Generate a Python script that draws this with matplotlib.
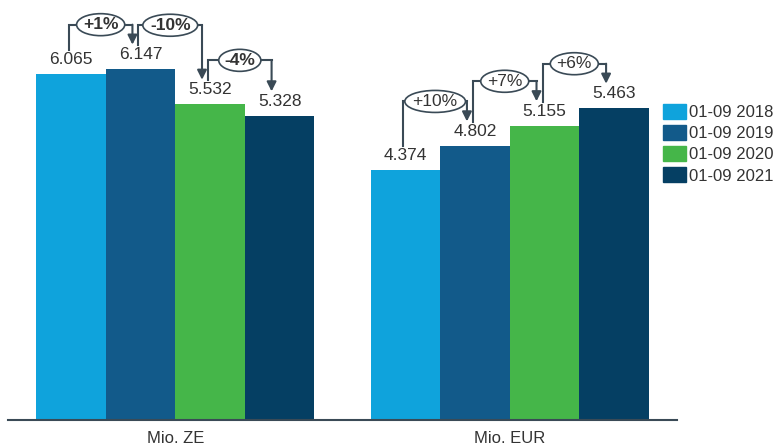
import matplotlib.pyplot as plt
from matplotlib.patches import Patch, Ellipse

plt.rcParams['font.family'] = ['Liberation Sans', 'DejaVu Sans']

categories = ["Mio. ZE", "Mio. EUR"]
series = ["01-09 2018", "01-09 2019", "01-09 2020", "01-09 2021"]
v2018 = [6.065, 4.374]
v2019 = [6.147, 4.802]
v2020 = [5.532, 5.155]
v2021 = [5.328, 5.463]
changes_ze = ["+1%", "-10%", "-4%"]
changes_eur = ["+10%", "+7%", "+6%"]

colors = ["#0fa3dc", "#125a8a", "#45b649", "#053f63"]
text_col = "#333333"
line_col = "#3a4a56"

values = [v2018, v2019, v2020, v2021]
w = 0.208

fig = plt.figure(figsize=(7.77, 4.45), dpi=100)
ax = fig.add_axes([8 / 777, 1 - 420 / 445, 669 / 777, 420 / 445])
ax.set_xlim(-0.5, 1.5)
ax.set_ylim(0, 420 / 57.07)

# pixels per data unit (for sizing the ellipses)
px_x = ax.bbox.width / 2.0
px_y = ax.bbox.height / (420 / 57.07)
renderer = fig.canvas.get_renderer()

tops = {}
for i, (name, vals) in enumerate(zip(series, values)):
    xs = [g + (i - 1.5) * w for g in range(len(categories))]
    bars = ax.bar(xs, vals, width=w, color=colors[i], label=name)
    ax.bar_label(bars, labels=[f"{v:.3f}" for v in vals], padding=5,
                 fontsize=12.5, color=text_col)
    for g, (x, v) in enumerate(zip(xs, vals)):
        tops[(g, i)] = (x, v)

# change brackets between neighbouring bars
for g, labels in enumerate([changes_ze, changes_eur]):
    for i, lab in enumerate(labels):
        x0, v0 = tops[(g, i)]
        x1, v1 = tops[(g, i + 1)]
        xs0 = x0 - 0.006
        xs1 = x1 - 0.024
        y0 = v0 + 0.42
        y1 = v1 + 0.43
        yb = max(y0, y1) + 0.35
        xc = (xs0 + xs1) / 2
        ax.plot([xs0, xs0, xs1], [y0, yb, yb], color=line_col, lw=1.5,
                solid_joinstyle="miter", zorder=3)
        ax.annotate("", xy=(xs1, y1), xytext=(xs1, yb),
                    arrowprops=dict(arrowstyle="-|>", color=line_col, lw=1.5,
                                    mutation_scale=14, shrinkA=0, shrinkB=0),
                    zorder=3)
        t = ax.text(xc, yb, lab, ha="center", va="center",
                    fontsize=12.5, color=text_col,
                    fontweight="bold" if g == 0 else "normal", zorder=5)
        tw = t.get_window_extent(renderer=renderer).width
        ax.add_patch(Ellipse((xc, yb), (tw * 1.3 + 2) / px_x, 22 / px_y,
                             fc="white", ec=line_col, lw=1.2, zorder=4))

ax.set_xticks(range(len(categories)))
ax.set_xticklabels(categories, fontsize=12, color=text_col)
ax.tick_params(axis="x", length=0, pad=8)
ax.set_yticks([])
for s in ["top", "right", "left"]:
    ax.spines[s].set_visible(False)
ax.spines["bottom"].set_color(line_col)
ax.spines["bottom"].set_linewidth(1.5)

handles = [Patch(color=c) for c in colors]
fig.legend(handles, series, loc="upper left",
           bbox_to_anchor=(663 / 777, 1 - 104 / 445), frameon=False,
           fontsize=12, handlelength=1.4, handleheight=1.0,
           handletextpad=0.15, labelspacing=0.3, borderpad=0,
           borderaxespad=0, labelcolor=text_col)

fig.savefig("out.png", dpi=100)
